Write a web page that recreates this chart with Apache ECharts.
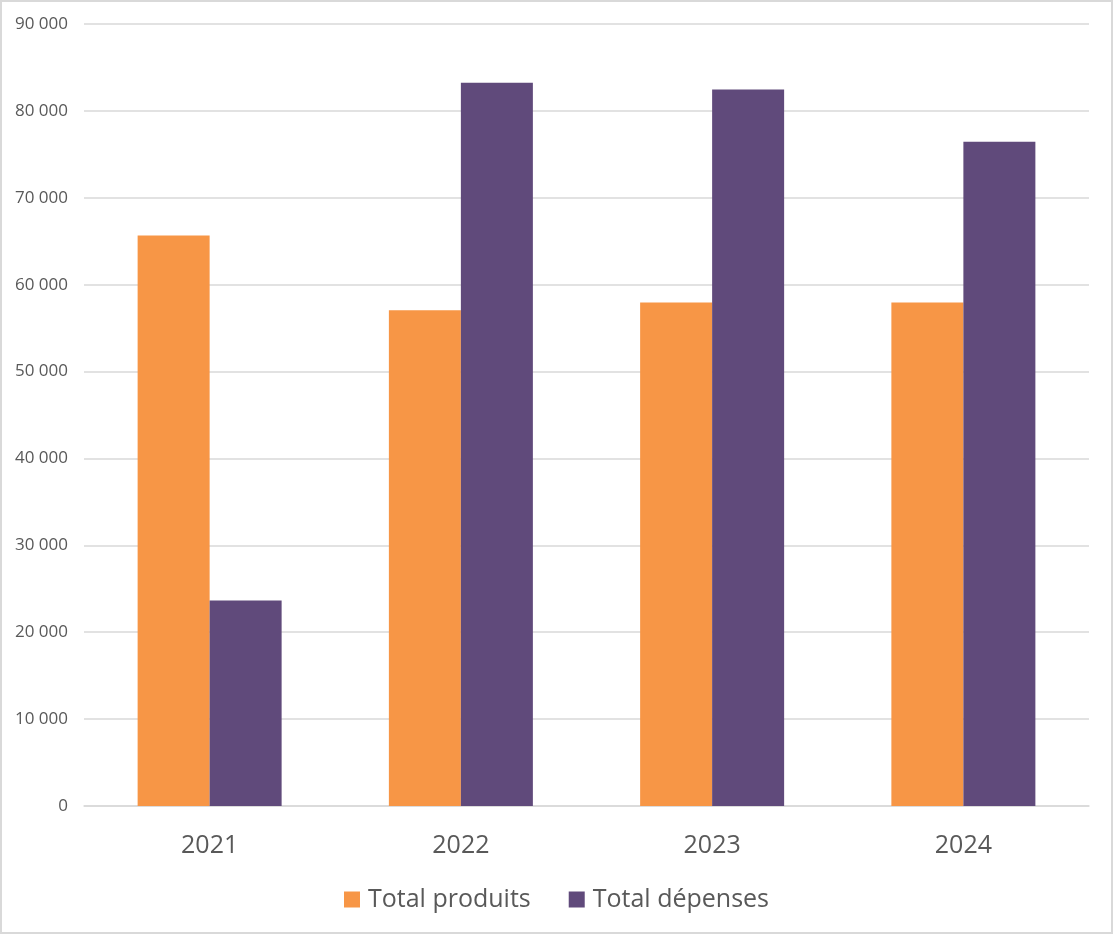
<!DOCTYPE html>
<html>
<head>
<meta charset="utf-8">
<script src="https://cdn.jsdelivr.net/npm/echarts@6/dist/echarts.min.js"></script>
<style>
html,body{margin:0;padding:0;background:#fff;}
#c{width:1113px;height:934px;box-sizing:border-box;border:2px solid #d9d9d9;}
</style>
</head>
<body>
<div id="c"></div>
<script>
const categories = ['2021', '2022', '2023', '2024'];
const produits = [65650, 57050, 57950, 57950];
const depenses = [23650, 83250, 82450, 76450];
const seriesNames = ['Total produits', 'Total dépenses'];

const chart = echarts.init(document.getElementById('c'), null, {renderer: 'canvas'});
const fmt = v => {
  const s = String(Math.round(v));
  return s.replace(/\B(?=(\d{3})+(?!\d))/g, ' ');
};
chart.setOption({
  animation: false,
  textStyle: {fontFamily: 'Open Sans'},
  grid: {left: 82, right: 22, top: 22, bottom: 126, containLabel: false},
  legend: {
    data: seriesNames,
    top: 880,
    left: 'center',
    itemWidth: 16, itemHeight: 16, itemGap: 38,
    icon: 'rect',
    textStyle: {fontSize: 25, color: '#595959', fontFamily: 'Open Sans', padding: [0, 0, 0, 3]}
  },
  xAxis: {
    type: 'category',
    data: categories,
    axisLine: {lineStyle: {color: '#d9d9d9', width: 1.5}},
    axisTick: {show: false},
    axisLabel: {fontSize: 25, color: '#595959', margin: 27, fontFamily: 'Open Sans'}
  },
  yAxis: {
    type: 'value',
    min: 0, max: 90000, interval: 10000,
    axisLine: {show: false},
    axisTick: {show: false},
    splitLine: {lineStyle: {color: '#d9d9d9', width: 1.5}},
    axisLabel: {fontSize: 17, color: '#595959', margin: 16, formatter: fmt, fontFamily: 'Open Sans'}
  },
  series: [
    {name: seriesNames[0], type: 'bar', data: produits, barWidth: 72, barGap: '0%', itemStyle: {color: '#f79646'}},
    {name: seriesNames[1], type: 'bar', data: depenses, barWidth: 72, barGap: '0%', itemStyle: {color: '#604a7b'}}
  ]
});
</script>
</body>
</html>
